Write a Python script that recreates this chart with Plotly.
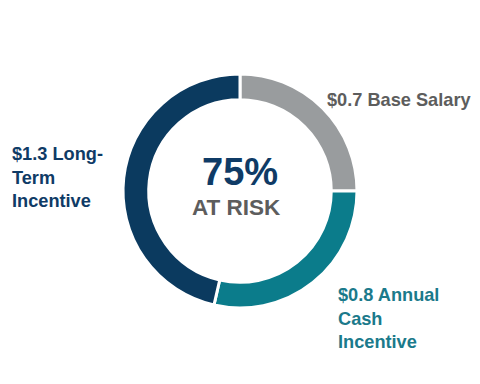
import plotly.graph_objects as go

labels = ["Base Salary", "Annual Cash Incentive", "Long-Term Incentive"]
values = [0.7, 0.8, 1.3]
colors = ["#999c9e", "#0b7c8b", "#0b3a5f"]
label_texts = ["$0.7 Base Salary", "$0.8 Annual<br>Cash<br>Incentive", "$1.3 Long-<br>Term<br>Incentive"]
label_colors = ["#5d5d5d", "#1b7a8b", "#0f3b66"]

OFF = 8  # page body margin
W, H = 480 - 2 * OFF, 384 - 2 * OFF


def px(x):
    return (x - OFF) / W


def py(y):
    return 1 - (y - OFF) / H


cx, cy, r = 240, 191, 117

fig = go.Figure(go.Pie(
    labels=labels, values=values, sort=False, direction="clockwise", rotation=0,
    hole=0.78, textinfo="none", hoverinfo="label+value",
    marker=dict(colors=colors, line=dict(color="white", width=3)),
    domain=dict(x=[px(cx - r), px(cx + r)], y=[py(cy + r), py(cy - r)]),
    showlegend=False,
))

font = "Liberation Sans, Arial, sans-serif"
fs = 18.2
anns = [
    dict(x=px(325), y=py(100), text=label_texts[0], xanchor="left", yanchor="middle",
         font=dict(size=fs, color=label_colors[0], family=font), align="left"),
    dict(x=px(335.5), y=py(318), text=label_texts[1], xanchor="left", yanchor="middle",
         font=dict(size=fs, color=label_colors[1], family=font), align="left"),
    dict(x=px(10), y=py(178), text=label_texts[2], xanchor="left", yanchor="middle",
         font=dict(size=fs, color=label_colors[2], family=font), align="left"),
    dict(x=px(cx), y=py(172), text="<b>75%</b>", xanchor="center", yanchor="middle",
         font=dict(size=38, color="#0f3b66", family=font)),
    dict(x=px(236), y=py(207), text="<b>AT RISK</b>", xanchor="center", yanchor="middle",
         font=dict(size=22.5, color="#5d5d5d", family=font)),
]
for a in anns[:3]:
    a["text"] = "<b>" + a["text"].replace("<br>", "</b><br><b>") + "</b>"
for a in anns:
    a.update(xref="paper", yref="paper", showarrow=False)

fig.update_layout(width=W, height=H, margin=dict(l=0, r=0, t=0, b=0),
                  paper_bgcolor="white", plot_bgcolor="white", annotations=anns)
fig.write_html("out.html")
